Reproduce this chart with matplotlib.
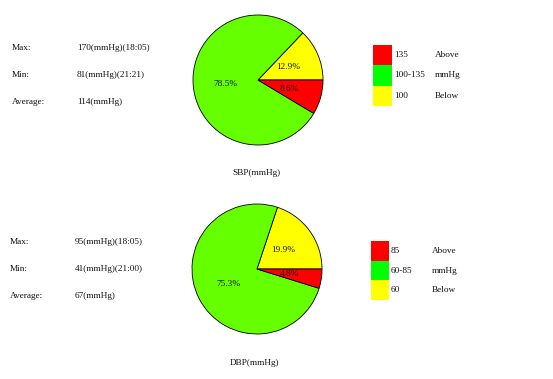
import matplotlib.pyplot as plt
from matplotlib.patches import Rectangle

# pie shares (counterclockwise from 3 o'clock): below, normal, above
sbp_pct = [12.9, 78.5, 8.6]
dbp_pct = [19.9, 75.3, 4.8]
pie_colors = ["#FFFF00", "#66FF00", "#FF0000"]

sbp_stats = [("Max:", "170(mmHg)(18:05)"), ("Min:", "81(mmHg)(21:21)"), ("Average:", "114(mmHg)")]
dbp_stats = [("Max:", "95(mmHg)(18:05)"), ("Min:", "41(mmHg)(21:00)"), ("Average:", "67(mmHg)")]

sbp_legend = ["135", "100-135", "100"]
dbp_legend = ["85", "60-85", "60"]
legend_right = ["Above", "mmHg", "Below"]
legend_colors = ["#FF0000", "#00FF00", "#FFFF00"]

W, H = 553, 379
plt.rcParams["font.family"] = ["Liberation Serif", "DejaVu Serif"]
fs = 6.7

fig = plt.figure(figsize=(W / 100, H / 100), dpi=100)
ax = fig.add_axes([0, 0, 1, 1])


def Y(y):
    return H - y


def panel(pcts, stats, leg, title, cx, cy, sx, vx, sy, dy, lx, ly, bw, bh, tx2, ty):
    ax.pie(pcts, colors=pie_colors, center=(cx, Y(cy)), radius=65, startangle=0,
           counterclock=True, autopct="%.1f%%", pctdistance=0.5,
           wedgeprops=dict(edgecolor="black", linewidth=0.6),
           textprops=dict(fontsize=fs, color="#111111"))
    for i, (k, v) in enumerate(stats):
        ax.text(sx, Y(sy + i * dy), k, fontsize=fs, va="center", color="#111111")
        ax.text(vx, Y(sy + i * dy), v, fontsize=fs, va="center", color="#111111")
    for i, lab in enumerate(leg):
        ax.add_patch(Rectangle((lx, Y(ly + (i + 1) * bh)), bw, bh,
                               facecolor=legend_colors[i], edgecolor="none"))
        ax.text(lx + bw + 2, Y(ly + (i + 0.5) * bh), lab, fontsize=fs, va="center", color="#111111")
        ax.text(tx2, Y(ly + (i + 0.5) * bh), legend_right[i], fontsize=fs, va="center", color="#111111")
    ax.text(cx - 2, Y(ty), title, fontsize=fs, ha="center", va="center", color="#111111")


panel(sbp_pct, sbp_stats, sbp_legend, "SBP(mmHg)", 258, 80, 12, 77, 48, 27,
      373, 45, 19, 20.3, 435, 173)
panel(dbp_pct, dbp_stats, dbp_legend, "DBP(mmHg)", 257, 269, 10, 75, 242, 27,
      371, 241, 18, 19.7, 432, 363)

ax.set_xlim(0, W)
ax.set_ylim(0, H)
ax.set_aspect("equal")
ax.axis("off")

fig.savefig("out.png", dpi=100)
